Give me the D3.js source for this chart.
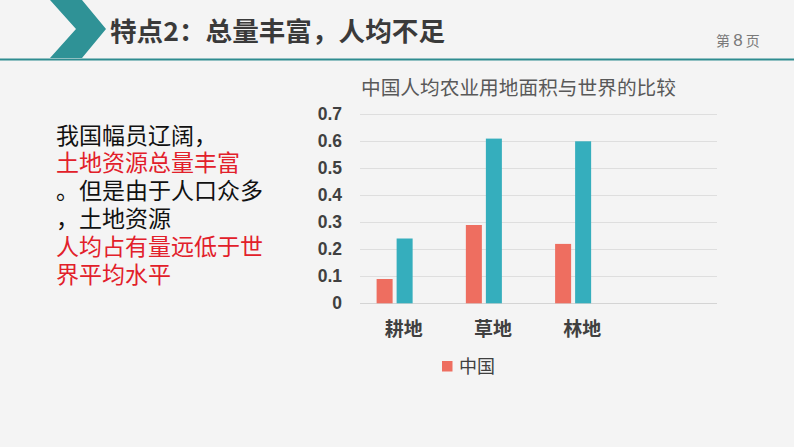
<!DOCTYPE html>
<html><head><meta charset="utf-8">
<script src="https://cdn.jsdelivr.net/npm/d3@7"></script>
<style>
html,body{margin:0;padding:0;background:#f4f4f4;}
svg{display:block;}
</style></head>
<body>
<svg id="c" width="794" height="447"></svg>
<script>
const pageTitle = "特点2：总量丰富，人均不足";
const pageNo = ["第", "8", "页"];
const chartTitle = "中国人均农业用地面积与世界的比较";
const categories = ["耕地", "草地", "林地", ""];
const seriesNames = ["中国", "世界", ""];
const chinaValues = [0.09, 0.29, 0.22];
const worldValues = [0.24, 0.61, 0.60];
const yTicks = [0, 0.1, 0.2, 0.3, 0.4, 0.5, 0.6, 0.7];
const legendNames = ["中国"];
const bodyLines = [
  {t: "我国幅员辽阔，", red: false},
  {t: "土地资源总量丰富", red: true},
  {t: "。但是由于人口众多", red: false},
  {t: "，土地资源", red: false},
  {t: "人均占有量远低于世", red: true},
  {t: "界平均水平", red: true}
];

const colors = {"中国": "#ee6e60", "世界": "#35aebd"};
const cjk = "'Noto Sans CJK SC','Noto Sans',sans-serif";
const tightCjk = "'Liberation Sans','Noto Sans CJK SC',sans-serif";
const svg = d3.select("#c");

svg.append("rect").attr("width", 794).attr("height", 447).attr("fill", "#f4f4f4");

// header
svg.append("polygon")
  .attr("points", "50,0 82,0 106,29 82,58 50,58 76,29")
  .attr("fill", "#2f9296");
svg.append("line").attr("x1", 0).attr("x2", 794).attr("y1", 59.5).attr("y2", 59.5)
  .attr("stroke", "#2f8c90").attr("stroke-width", 2);
svg.append("text").attr("x", 110).attr("y", 41)
  .attr("font-family", cjk).attr("font-weight", "bold").attr("font-size", 26)
  .attr("fill", "#3a3a3a").attr("textLength", 335).attr("lengthAdjust", "spacingAndGlyphs")
  .text(pageTitle);
const pn = svg.append("text").attr("x", 716).attr("y", 46)
  .attr("font-family", cjk).attr("font-size", 14).attr("fill", "#7a7a7a");
pn.append("tspan").text(pageNo[0] + " ");
pn.append("tspan").attr("font-size", 17).attr("font-family", "'Liberation Sans',sans-serif").text(pageNo[1]);
pn.append("tspan").text(" " + pageNo[2]);

// left body text
svg.append("g").selectAll("text").data(bodyLines).join("text")
  .attr("x", 56).attr("y", (d, i) => 143.5 + i * 27.8)
  .attr("font-family", tightCjk).attr("font-size", 23)
  .attr("fill", d => d.red ? "#e2202a" : "#111")
  .text(d => d.t);

// chart scales
const x0 = d3.scaleBand().domain(categories).range([360, 717]).padding(0);
const x1 = d3.scaleBand().domain(seriesNames).range([0, x0.bandwidth()])
  .paddingInner(0.2).paddingOuter(0.83);
const y = d3.scaleLinear().domain([0, 0.7]).range([303.3, 114.3]);

svg.append("text").attr("x", 361).attr("y", 95)
  .attr("font-family", cjk).attr("font-size", 19.7).attr("fill", "#595959")
  .text(chartTitle);

// gridlines
svg.append("g").selectAll("line").data(yTicks).join("line")
  .attr("x1", 360).attr("x2", 717)
  .attr("y1", d => Math.round(y(d)) + 0.5).attr("y2", d => Math.round(y(d)) + 0.5)
  .attr("stroke", d => d === 0 ? "#d4d4d4" : "#dedede").attr("stroke-width", 1);

// y axis labels
const yAxis = d3.axisLeft(y).tickValues(yTicks).tickSize(0).tickPadding(0)
  .tickFormat(d => d === 0 ? "0" : d3.format(".1f")(d));
const yg = svg.append("g").attr("transform", "translate(342,0)").call(yAxis);
yg.select(".domain").remove();
yg.selectAll("text").attr("font-family", "'Liberation Sans',Arial,sans-serif")
  .attr("font-weight", "bold").attr("font-size", 17.5).attr("fill", "#404040");

// bars
const rows = categories.slice(0, 3).map((c, i) => ({cat: c, vals: [
  {s: "中国", v: chinaValues[i]}, {s: "世界", v: worldValues[i]}]}));
const groups = svg.append("g").selectAll("g").data(rows).join("g")
  .attr("transform", d => `translate(${x0(d.cat)},0)`);
groups.selectAll("rect").data(d => d.vals).join("rect")
  .attr("x", d => x1(d.s)).attr("width", x1.bandwidth())
  .attr("y", d => y(d.v)).attr("height", d => y(0) - y(d.v))
  .attr("fill", d => colors[d.s]);

// x axis labels
const xAxis = d3.axisBottom(x0).tickSize(0).tickPadding(0);
const xg = svg.append("g").attr("transform", "translate(-1,319)").call(xAxis);
xg.select(".domain").remove();
xg.selectAll("text").attr("font-family", cjk).attr("font-weight", "bold")
  .attr("font-size", 19).attr("fill", "#404040").attr("dy", "0.9em");

// legend
const lg = svg.append("g").selectAll("g").data(legendNames).join("g")
  .attr("transform", (d, i) => `translate(${442 + i * 80},361)`);
lg.append("rect").attr("width", 10.5).attr("height", 10.5).attr("fill", d => colors[d]);
lg.append("text").attr("x", 17).attr("y", 12).attr("font-family", cjk)
  .attr("font-size", 18).attr("fill", "#404040").text(d => d);
</script>
</body></html>
